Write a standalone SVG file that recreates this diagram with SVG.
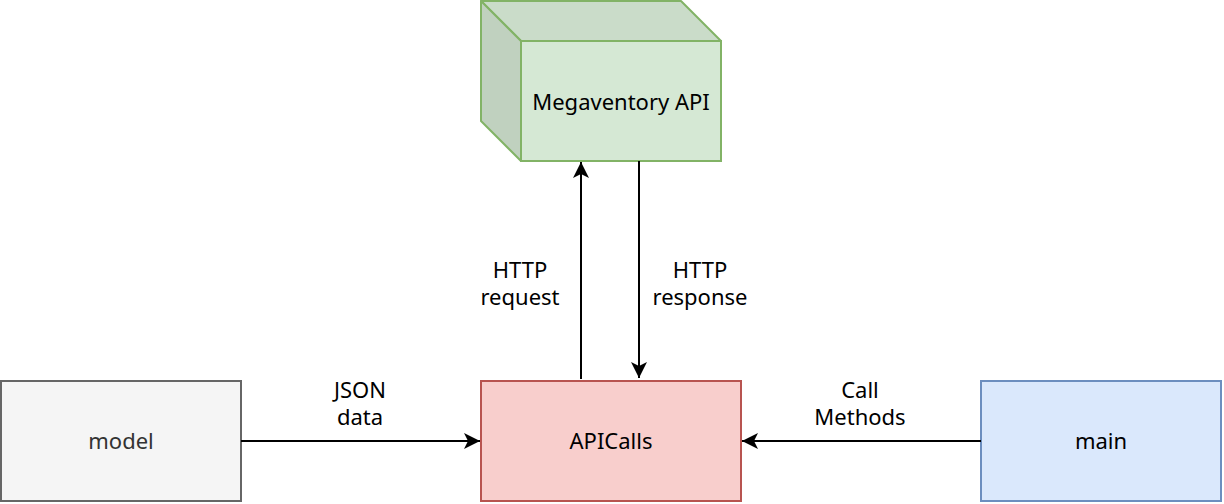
<svg xmlns="http://www.w3.org/2000/svg" width="1224" height="504" viewBox="0 0 1224 504">
<style>
text{font-family:"Noto Sans","DejaVu Sans",sans-serif;font-size:22px;text-anchor:middle;fill:#000}
.edge{fill:none;stroke:#000;stroke-width:2}
</style>
<defs>
<marker id="arr" viewBox="0 0 16 16" refX="16" refY="8" markerWidth="16" markerHeight="16" markerUnits="userSpaceOnUse" orient="auto">
<path d="M16,8 L0,0 L4,8 L0,16 Z" fill="#000"/>
</marker>
</defs>
<rect width="1224" height="504" fill="#fff"/>
<g id="megaventory">
<path d="M481,1 L681,1 L721,41 L521,41 Z" fill="#cadcc9" stroke="#82b366" stroke-width="2" stroke-linejoin="round"/>
<path d="M481,1 L521,41 L521,161 L481,121 Z" fill="#c0d1bf" stroke="#82b366" stroke-width="2" stroke-linejoin="round"/>
<rect x="521" y="41" width="200" height="120" fill="#d5e8d4" stroke="#82b366" stroke-width="2"/>
<text x="621" y="110">Megaventory API</text>
</g>
<g id="model">
<rect x="1" y="381" width="240" height="120" fill="#f5f5f5" stroke="#666666" stroke-width="2"/>
<text x="121" y="449" style="fill:#333333">model</text>
</g>
<g id="apicalls">
<rect x="481" y="381" width="260" height="120" fill="#f8cecc" stroke="#b85450" stroke-width="2"/>
<text x="611" y="449">APICalls</text>
</g>
<g id="main">
<rect x="981" y="381" width="240" height="120" fill="#dae8fc" stroke="#6c8ebf" stroke-width="2"/>
<text x="1101" y="449">main</text>
</g>
<g id="connectors">
<path class="edge" d="M241,441 L480,441" marker-end="url(#arr)"/>
<path class="edge" d="M981,441 L742,441" marker-end="url(#arr)"/>
<path class="edge" d="M581,379 L581,162" marker-end="url(#arr)"/>
<path class="edge" d="M639,161 L639,378" marker-end="url(#arr)"/>
<text x="520" y="278">HTTP<tspan x="520" dy="27">request</tspan></text>
<text x="700" y="278">HTTP<tspan x="700" dy="27">response</tspan></text>
<text x="360" y="398">JSON<tspan x="360" dy="27">data</tspan></text>
<text x="860" y="398">Call<tspan x="860" dy="27">Methods</tspan></text>
</g>
</svg>
